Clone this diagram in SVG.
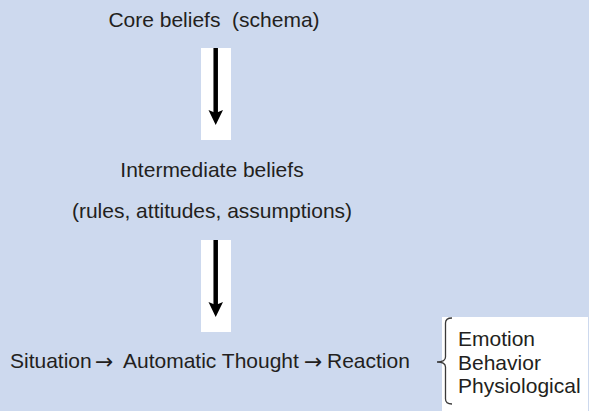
<svg xmlns="http://www.w3.org/2000/svg" width="589" height="411" viewBox="0 0 589 411">
  <style>
    .t { font-family: "Liberation Sans", Arial, sans-serif; font-size: 21px; fill: #231f20; white-space: pre; }
    .ar { font-family: "Noto Sans", "DejaVu Sans", sans-serif; font-size: 22px; fill: #231f20; }
    .panel { fill: #ffffff; }
    .shaft { stroke: #000000; stroke-width: 4.5; fill: none; }
    .head { fill: #000000; }
    .brace { stroke: #3a3a3a; stroke-width: 1.3; fill: none; }
  </style>
  <rect width="589" height="411" fill="#cdd9ee"/>

  <g id="core-beliefs">
    <text class="t" x="214" y="27" text-anchor="middle" xml:space="preserve">Core beliefs  (schema)</text>
  </g>

  <g id="intermediate-beliefs">
    <text class="t" x="212" y="177" text-anchor="middle">Intermediate beliefs</text>
    <text class="t" x="212" y="218" text-anchor="middle">(rules, attitudes, assumptions)</text>
  </g>

  <g id="chain">
    <text class="t" x="10" y="368">Situation</text>
    <text class="ar" x="95" y="368.5">→</text>
    <text class="t" x="123" y="368">Automatic Thought</text>
    <text class="ar" x="304" y="368.5">→</text>
    <text class="t" x="327" y="368">Reaction</text>
  </g>

  <g id="reactions">
    <rect class="panel" x="442" y="317" width="146" height="94"/>
    <path class="brace" d="M452,318 Q445.5,318 445.5,323 L445.5,357 Q445.5,362 437,362 Q445.5,362 445.5,367 L445.5,399 Q445.5,404 452,404"/>
    <text class="t" x="458" y="346">Emotion</text>
    <text class="t" x="458" y="370">Behavior</text>
    <text class="t" x="458" y="393">Physiological</text>
  </g>

  <g id="connectors">
    <rect class="panel" x="201" y="48" width="30" height="92"/>
    <line class="shaft" x1="215.7" y1="48" x2="215.7" y2="113"/>
    <polygon class="head" points="208.5,110 215.7,113 223,110 215.7,125"/>
    <rect class="panel" x="201" y="240" width="30" height="92"/>
    <line class="shaft" x1="215.7" y1="240" x2="215.7" y2="305"/>
    <polygon class="head" points="208.5,302 215.7,305 223,302 215.7,317"/>
  </g>
</svg>
